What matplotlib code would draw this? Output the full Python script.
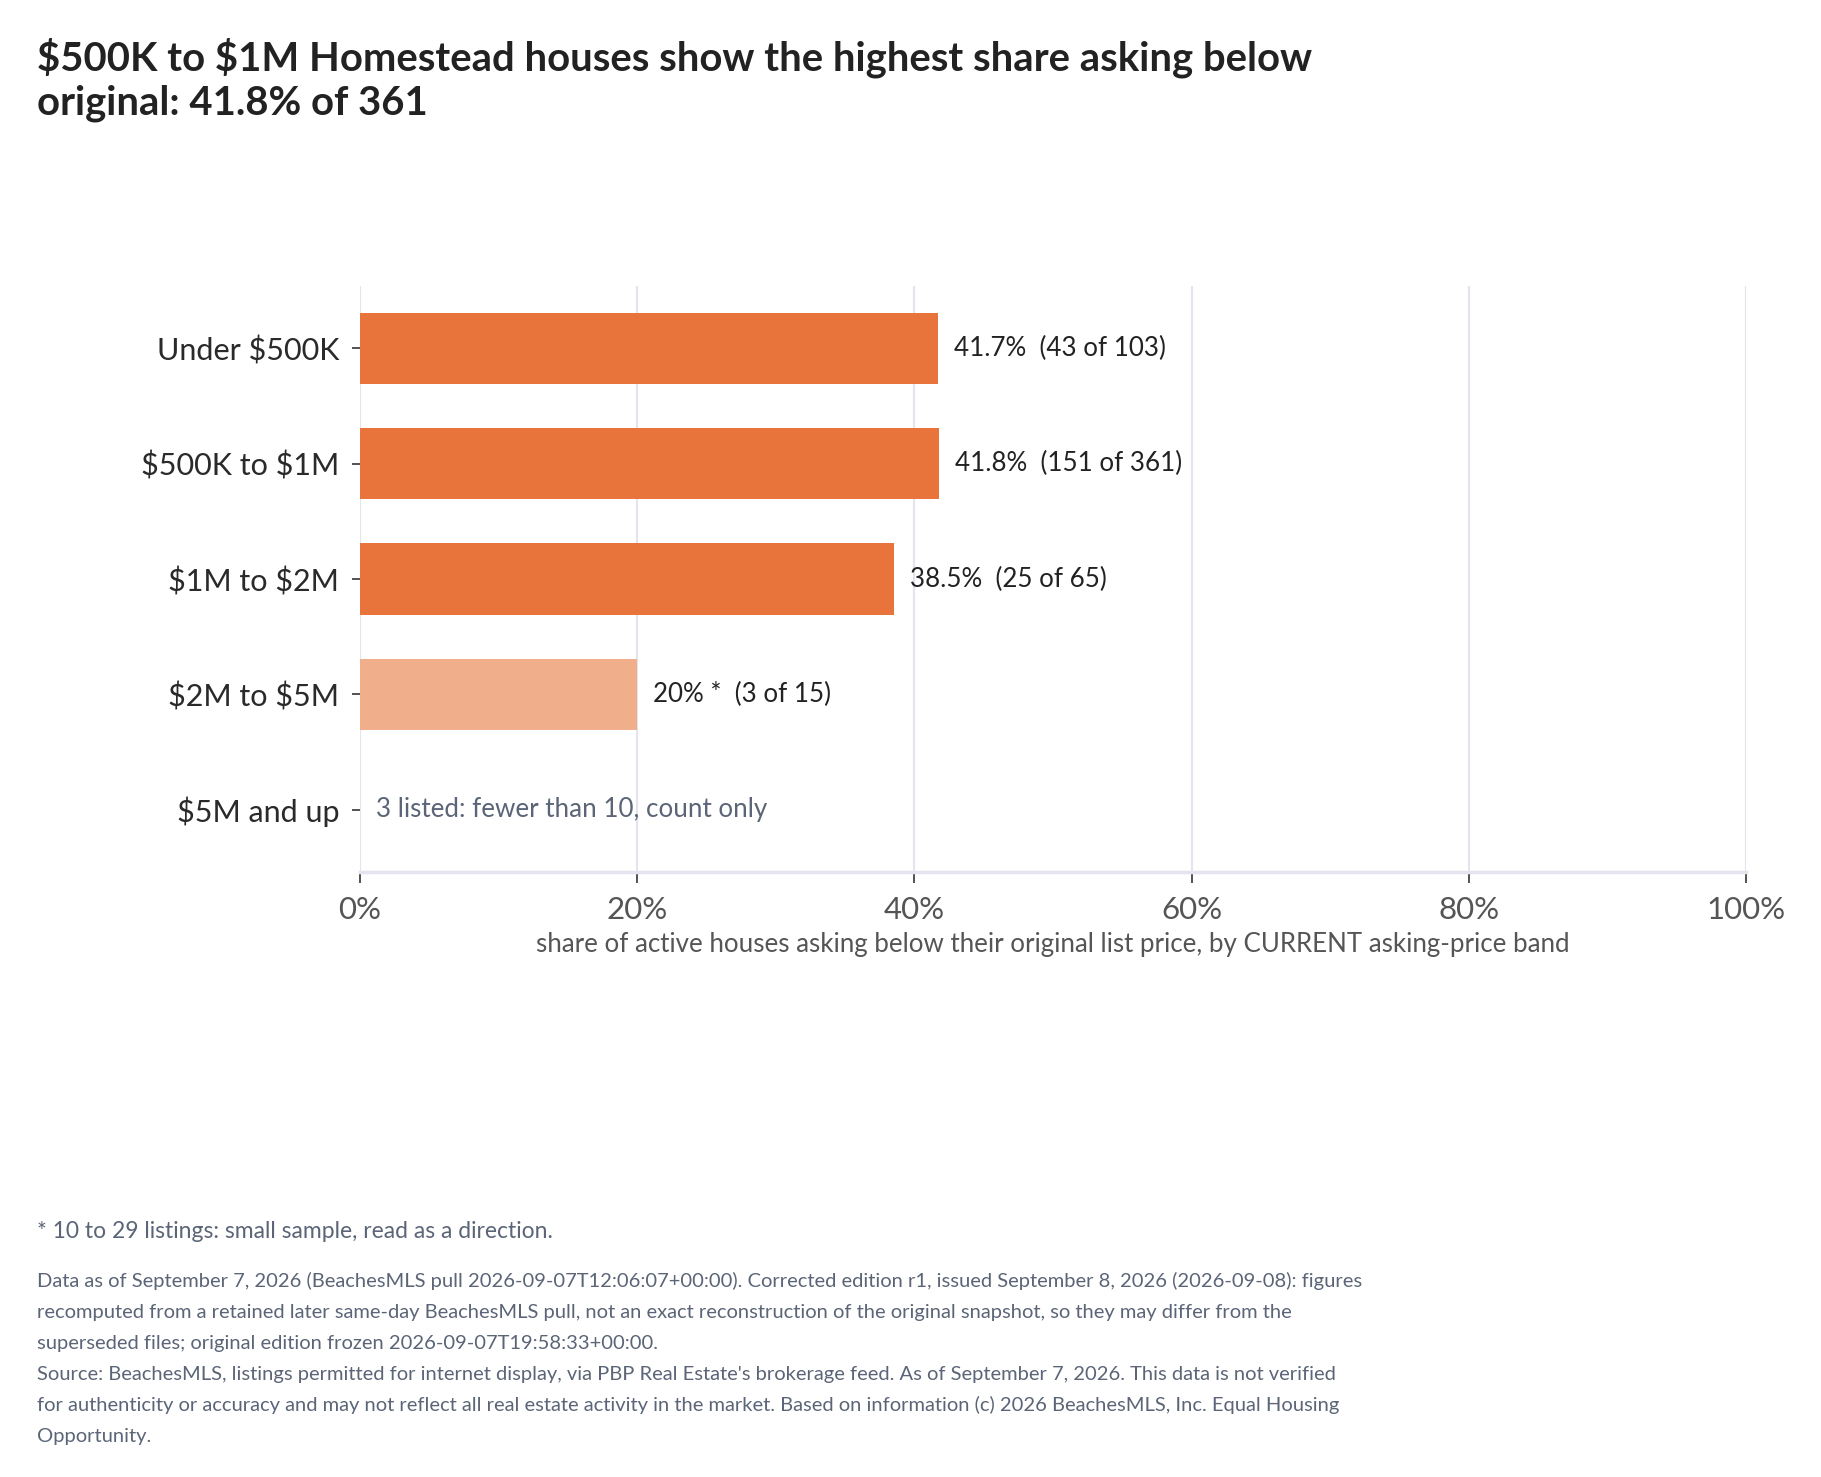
import matplotlib
matplotlib.use("Agg")
import matplotlib.pyplot as plt

plt.rcParams['font.family'] = ['Lato', 'DejaVu Sans']
plt.rcParams['text.parse_math'] = False

categories = ["Under $500K", "$500K to $1M", "$1M to $2M", "$2M to $5M", "$5M and up"]
shares = [41.7, 41.8, 38.5, 20.0, None]
share_text = ["41.7%", "41.8%", "38.5%", "20% *", None]
below_counts = [43, 151, 25, 3, None]
totals = [103, 361, 65, 15, 3]
small_sample = [False, False, False, True, False]
x_ticks = [0, 20, 40, 60, 80, 100]
x_tick_labels = ["0%", "20%", "40%", "60%", "80%", "100%"]

title_lines = ["$500K to $1M Homestead houses show the highest share asking below",
               "original: 41.8% of 361"]
x_label = "share of active houses asking below their original list price, by CURRENT asking-price band"
count_only_note = "3 listed: fewer than 10, count only"
footnote = "* 10 to 29 listings: small sample, read as a direction."
small_print = [
    "Data as of September 7, 2026 (BeachesMLS pull 2026-09-07T12:06:07+00:00). Corrected edition r1, issued September 8, 2026 (2026-09-08): figures",
    "recomputed from a retained later same-day BeachesMLS pull, not an exact reconstruction of the original snapshot, so they may differ from the",
    "superseded files; original edition frozen 2026-09-07T19:58:33+00:00.",
    "Source: BeachesMLS, listings permitted for internet display, via PBP Real Estate's brokerage feed. As of September 7, 2026. This data is not verified",
    "for authenticity or accuracy and may not reflect all real estate activity in the market. Based on information (c) 2026 BeachesMLS, Inc. Equal Housing",
    "Opportunity.",
]

W, H = 1821, 1477
fig = plt.figure(figsize=(W / 100, H / 100), dpi=100)
fig.patch.set_facecolor("white")

ax_left, ax_right, ax_top, ax_bottom = 360, 1746, 286, 872
ax = fig.add_axes([ax_left / W, 1 - ax_bottom / H, (ax_right - ax_left) / W, (ax_bottom - ax_top) / H])

strong = "#E8743B"
light = "#F0AE8B"
grid_c = "#E4E4EE"
ink = "#2A2A2A"
slate = "#5B6577"

ypos = list(range(len(categories)))
for i, (v, ss) in enumerate(zip(shares, small_sample)):
    if v is None:
        continue
    ax.barh(i, v, height=0.617, color=light if ss else strong, zorder=3)
    ax.annotate(f"{share_text[i]}  ({below_counts[i]} of {totals[i]})",
                xy=(v, i), xytext=(11.5, 0), textcoords="offset points",
                va="center", ha="left", fontsize=18.7, color="#222222", zorder=4)

ax.annotate(count_only_note, xy=(0, 4), xytext=(11.5, 0), textcoords="offset points",
            va="center", ha="left", fontsize=18.7, color=slate, zorder=4)

ax.set_xlim(0, 100)
ax.set_ylim(4.54, -0.54)
ax.set_yticks(ypos)
ax.set_yticklabels(categories, fontsize=22, color=ink)
ax.set_xticks(x_ticks)
ax.set_xticklabels(x_tick_labels, fontsize=22.5, color="#555555")
ax.tick_params(axis="y", length=6, width=1.3, color="#444444", pad=9)
ax.tick_params(axis="x", length=8, width=1.3, color="#444444", pad=9)
ax.set_xlabel(x_label, fontsize=18.6, color="#555555", labelpad=6)

ax.grid(axis="x", color=grid_c, linewidth=1.5, zorder=0)
for s in ["top", "right", "left"]:
    ax.spines[s].set_visible(False)
ax.spines["bottom"].set_color(grid_c)
ax.spines["bottom"].set_linewidth(2.5)

for k, line in enumerate(title_lines):
    fig.text(37 / W, 1 - (70 + 44 * k) / H, line, fontsize=28.8, fontweight="bold",
             color="#222222", ha="left", va="baseline")
fig.text(37 / W, 1 - 1238 / H, footnote, fontsize=16.5, color=slate, ha="left", va="baseline")
for k, line in enumerate(small_print):
    fig.text(37 / W, 1 - (1287 + 31 * k) / H, line, fontsize=14.5, color=slate, ha="left", va="baseline")

fig.savefig("out.png", dpi=100, facecolor="white")
